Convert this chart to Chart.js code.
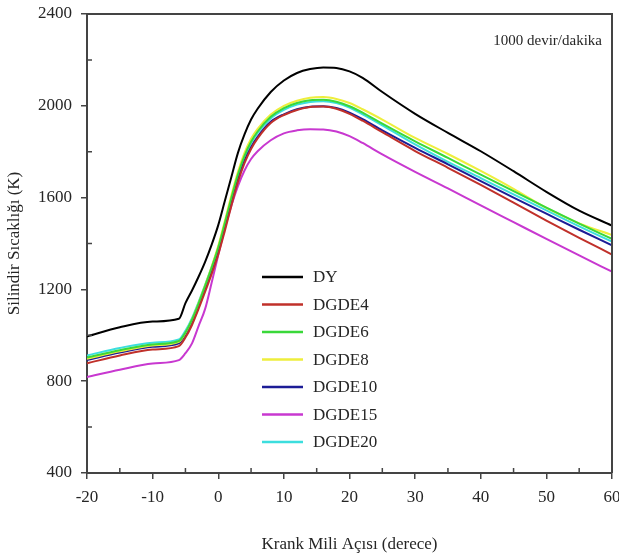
<!DOCTYPE html>
<html>
<head>
<meta charset="utf-8">
<script src="https://cdn.jsdelivr.net/npm/chart.js@4.4.1/dist/chart.umd.min.js"></script>
<style>
  html, body { margin: 0; padding: 0; background: #fff; }
  #wrap { width: 619px; height: 560px; }
</style>
</head>
<body>
<div id="wrap"><canvas id="tempChart" width="619" height="560"></canvas></div>
<script>
// crank angle (degrees)
const angles = [-20, -15, -10, -6, -5, -4, -3, -2, -1, 0, 1, 2, 3, 4, 5, 6, 8, 10, 12, 14, 16, 18, 20, 22, 25, 30, 35, 40, 45, 50, 55, 60];

// cylinder temperature (K)
const dy     = [995, 1035, 1060, 1072, 1140, 1195, 1255, 1320, 1395, 1480, 1585, 1690, 1795, 1875, 1940, 1987, 2060, 2110, 2143, 2160, 2167, 2165, 2150, 2122, 2060, 1965, 1882, 1802, 1715, 1625, 1543, 1478];
const dgde4  = [878, 912, 938, 953, 990, 1045, 1115, 1190, 1268, 1352, 1455, 1565, 1668, 1750, 1812, 1858, 1925, 1960, 1982, 1995, 1997, 1987, 1965, 1935, 1885, 1803, 1730, 1655, 1578, 1500, 1425, 1352];
const dgde6  = [903, 935, 960, 975, 1012, 1068, 1138, 1215, 1295, 1382, 1488, 1598, 1700, 1782, 1843, 1888, 1952, 1990, 2012, 2024, 2026, 2018, 1998, 1970, 1922, 1845, 1773, 1700, 1628, 1556, 1487, 1420];
const dgde8  = [898, 930, 956, 972, 1010, 1068, 1140, 1218, 1300, 1390, 1498, 1610, 1712, 1795, 1857, 1900, 1962, 2000, 2022, 2035, 2038, 2030, 2012, 1985, 1940, 1860, 1790, 1716, 1638, 1555, 1488, 1437];
const dgde10 = [892, 925, 950, 965, 1003, 1058, 1128, 1203, 1280, 1365, 1470, 1580, 1680, 1760, 1820, 1865, 1930, 1963, 1985, 1996, 1998, 1990, 1970, 1942, 1893, 1817, 1745, 1672, 1600, 1530, 1460, 1392];
const dgde15 = [818, 850, 877, 892, 922, 965, 1040, 1115, 1230, 1350, 1465, 1565, 1650, 1718, 1768, 1802, 1850, 1880, 1893, 1898, 1897, 1888, 1868, 1838, 1788, 1712, 1640, 1566, 1493, 1420, 1348, 1277];
const dgde20 = [912, 945, 968, 982, 1020, 1075, 1145, 1220, 1298, 1383, 1488, 1597, 1698, 1778, 1838, 1882, 1945, 1982, 2005, 2017, 2020, 2012, 1992, 1963, 1915, 1832, 1756, 1685, 1614, 1544, 1475, 1408];

const seriesNames = ["DY", "DGDE4", "DGDE6", "DGDE8", "DGDE10", "DGDE15", "DGDE20"];
const seriesValues = [dy, dgde4, dgde6, dgde8, dgde10, dgde15, dgde20];
const seriesColors = ["#000000", "#c0302a", "#3ad83a", "#eeee3c", "#1c1c96", "#c838d0", "#3cdede"];

const xMin = -20, xMax = 60, xStep = 10;
const yMin = 400, yMax = 2400, yStep = 400;

const FONT = "'Liberation Serif', 'DejaVu Serif', serif";
const TEXT = "#262626";
const AXIS = "#444444";

const framePlugin = {
  id: "frame",
  afterDraw(chart) {
    const { ctx, chartArea: a, scales } = chart;
    ctx.save();
    ctx.strokeStyle = AXIS;
    ctx.lineWidth = 2;
    ctx.beginPath();
    ctx.moveTo(a.left, a.top);
    ctx.lineTo(a.right, a.top);
    ctx.lineTo(a.right, a.bottom);
    ctx.stroke();

    // minor ticks, drawn inward
    ctx.lineWidth = 1.5;
    ctx.beginPath();
    for (let v = xMin + xStep / 2; v < xMax; v += xStep) {
      const px = scales.x.getPixelForValue(v);
      ctx.moveTo(px, a.bottom);
      ctx.lineTo(px, a.bottom - 5);
    }
    for (let v = yMin + yStep / 2; v < yMax; v += yStep) {
      const py = scales.y.getPixelForValue(v);
      ctx.moveTo(a.left, py);
      ctx.lineTo(a.left + 5, py);
    }
    ctx.stroke();

    // speed note
    ctx.fillStyle = TEXT;
    ctx.font = "15px " + FONT;
    ctx.textAlign = "right";
    ctx.textBaseline = "middle";
    ctx.fillText("1000 devir/dakika", a.right - 10, a.top + 27);

    // legend inside the plot
    ctx.font = "17px " + FONT;
    ctx.textAlign = "left";
    chart.data.datasets.forEach((ds, i) => {
      const y = a.top + 263 + i * 27.5;
      ctx.strokeStyle = ds.borderColor;
      ctx.lineWidth = 2.5;
      ctx.beginPath();
      ctx.moveTo(a.left + 175, y);
      ctx.lineTo(a.left + 216, y);
      ctx.stroke();
      ctx.fillStyle = TEXT;
      ctx.fillText(ds.label, a.left + 226, y + 1);
    });
    ctx.restore();
  }
};

new Chart(document.getElementById("tempChart"), {
  type: "line",
  data: {
    datasets: seriesNames.map((name, i) => ({
      label: name,
      data: angles.map((a, j) => ({ x: a, y: seriesValues[i][j] })),
      borderColor: seriesColors[i],
      backgroundColor: seriesColors[i],
      borderWidth: 2,
      pointRadius: 0,
      cubicInterpolationMode: "monotone",
      fill: false
    }))
  },
  options: {
    responsive: false,
    animation: false,
    layout: { padding: { top: 14, right: 7, left: 0, bottom: 0 } },
    plugins: {
      legend: { display: false },
      tooltip: { enabled: false }
    },
    scales: {
      x: {
        type: "linear",
        min: xMin,
        max: xMax,
        afterFit(scale) {
          scale.height = 87;
          scale.paddingLeft = 0;
          scale.paddingRight = 0;
        },
        ticks: {
          stepSize: xStep,
          color: TEXT,
          padding: 8,
          maxRotation: 0,
          font: { family: FONT, size: 17 },
          callback: (v) => String(v)
        },
        grid: { drawOnChartArea: false, tickLength: 6, color: AXIS, lineWidth: 1.5 },
        border: { color: AXIS, width: 2 },
        title: {
          display: true,
          text: "Krank Mili Açısı (derece)",
          color: TEXT,
          font: { family: FONT, size: 17 },
          padding: { top: 0, bottom: 5 }
        }
      },
      y: {
        min: yMin,
        max: yMax,
        afterFit(scale) {
          scale.width = 87;
          scale.paddingTop = 0;
          scale.paddingBottom = 0;
        },
        ticks: {
          stepSize: yStep,
          color: TEXT,
          padding: 9,
          font: { family: FONT, size: 17 },
          callback: (v) => String(v)
        },
        grid: { drawOnChartArea: false, tickLength: 6, color: AXIS, lineWidth: 1.5 },
        border: { color: AXIS, width: 2 },
        title: {
          display: true,
          text: "Silindir Sıcaklığı (K)",
          color: TEXT,
          font: { family: FONT, size: 17 },
          padding: { top: 4, bottom: 0 }
        }
      }
    }
  },
  plugins: [framePlugin]
});
</script>
</body>
</html>
